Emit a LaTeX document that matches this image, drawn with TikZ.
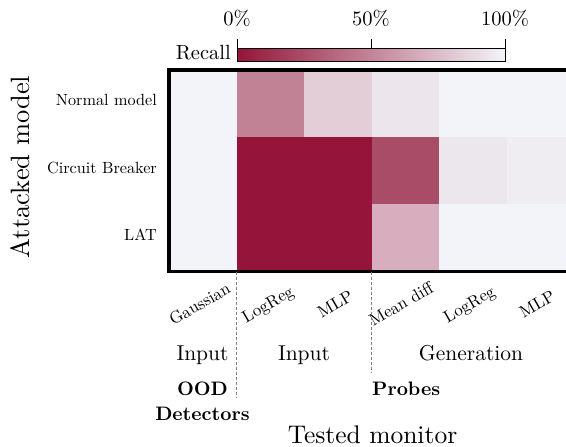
\documentclass[tikz,border=0pt]{standalone}
\usepackage{fontspec}
\setmainfont{lmroman10-regular}[Extension=.otf, BoldFont=lmroman10-bold]
\definecolor{cdark}{RGB}{148,21,57}
\definecolor{clight}{RGB}{243,244,249}
\definecolor{cA}{RGB}{194,130,150}
\definecolor{cB}{RGB}{227,205,215}
\definecolor{cC}{RGB}{237,229,236}
\definecolor{cD}{RGB}{169,76,103}
\definecolor{cE}{RGB}{236,230,237}
\definecolor{cF}{RGB}{239,236,242}
\definecolor{cG}{RGB}{216,174,190}
\tikzset{
  big/.style={font=\fontsize{20.5}{24}\selectfont},
  grp/.style={font=\fontsize{21.5}{25}\selectfont, anchor=base, inner sep=0pt},
  bigbold/.style={font=\fontsize{19.5}{23}\selectfont\bfseries},
  rowlab/.style={font=\fontsize{16.2}{19}\selectfont, anchor=mid east, inner sep=0pt},
  collab/.style={font=\fontsize{17}{20}\selectfont, anchor=base, rotate=30, inner sep=0pt},
  axtitle/.style={font=\fontsize{25.5}{30}\selectfont},
  sep/.style={gray, dash pattern=on 3pt off 2pt, line width=0.6pt}
}
\begin{document}
\begin{tikzpicture}[x=1pt,y=-1pt]
\useasboundingbox (0,0) rectangle (566,447);
\begin{scope}
\clip (0,0) rectangle (566,447);
\foreach \col/\row/\c in {0/0/clight,1/0/cA,2/0/cB,3/0/cC,4/0/clight,5/0/clight,
  0/1/clight,1/1/cdark,2/1/cdark,3/1/cD,4/1/cE,5/1/cF,
  0/2/clight,1/2/cdark,2/2/cdark,3/2/cG,4/2/clight,5/2/clight}
  \fill[\c] ({169+67.5*\col},{70+67.17*\row}) rectangle ++(67.6,67.27);
\draw[line width=3.5pt] (169,70) rectangle (574,271.5);
\end{scope}
% colour bar
\shade[left color=cdark, right color=clight] (237,48) rectangle (505,61);
\draw[line width=0.8pt] (237,48) rectangle (505,61);
\coordinate (k0) at (237,48); \coordinate (k0t) at (237,39);
\coordinate (k1) at (371,48); \coordinate (k1t) at (371,39);
\coordinate (k2) at (505,48); \coordinate (k2t) at (505,39);
\draw[line width=0.8pt] (k0) -- (k0t) (k1) -- (k1t) (k2) -- (k2t);
\node[big, anchor=base, inner sep=0pt] (p0) at (237,25) {0\%};
\node[big, anchor=base, inner sep=0pt] (p50) at (371,25) {50\%};
\node[big, anchor=base, inner sep=0pt] (p100) at (505,25) {100\%};
\node[big, anchor=base east, inner sep=0pt] (recall) at (231,59.5) {Recall};
% row labels
\node[rowlab] (r1) at (157,103.5) {Normal model};
\node[rowlab] (r2) at (157,171) {Circuit Breaker};
\node[rowlab] (r3) at (157,238) {LAT};
\node[axtitle, rotate=90, anchor=mid, inner sep=0pt, font=\fontsize{26.5}{30}\selectfont] (ylab) at (27,167) {Attacked model};
% column labels
\node[collab] (c1) at (202.5,309) {Gaussian};
\node[collab] (c2) at (270.5,309) {LogReg};
\node[collab] (c3) at (338,309) {MLP};
\node[collab] (c4) at (404,309) {Mean diff};
\node[collab] (c5) at (472,309) {LogReg};
\node[collab] (c6) at (540,309) {MLP};
% separators
\coordinate (s1a) at (236.5,271.5); \coordinate (s1b) at (236.5,398);
\coordinate (s2a) at (371.5,271.5); \coordinate (s2b) at (371.5,372);
\draw[sep] (s1a) -- (s1b);
\draw[sep] (s2a) -- (s2b);
% group labels
\node[grp] (g1) at (202.5,360) {Input};
\node[grp] (g2) at (304,360) {Input};
\node[grp] (g3) at (471,360) {Generation};
\node[bigbold, anchor=base, inner sep=0pt] (ood) at (202.5,395) {OOD};
\node[bigbold, anchor=base, inner sep=0pt] (det) at (202.5,420) {Detectors};
\node[bigbold, anchor=base west, inner sep=0pt] (prb) at (372,395) {Probes};
\node[axtitle, anchor=base, inner sep=0pt] (xlab) at (372.5,443.5) {Tested monitor};
\end{tikzpicture}
\end{document}
